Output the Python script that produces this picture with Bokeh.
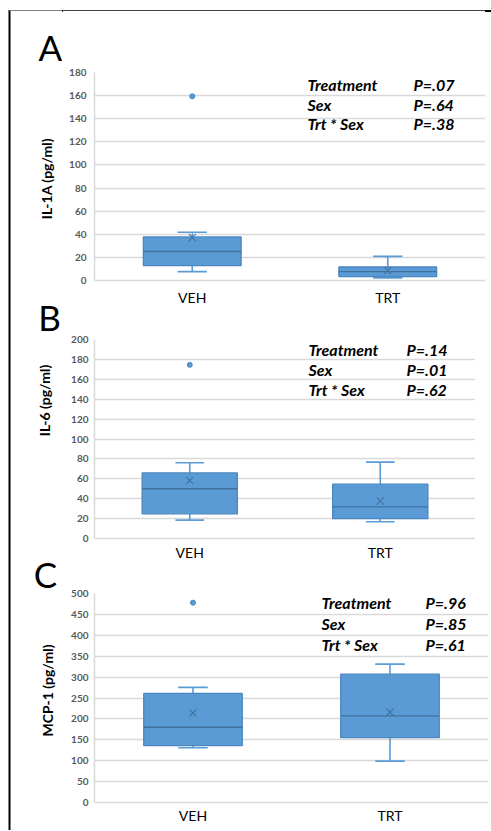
import math
from bokeh.plotting import figure
from bokeh.models import (FixedTicker, Label, ColumnDataSource, Range1d, FactorRange,
                          BoxAnnotation, Div)
from bokeh.transform import dodge
from bokeh.layouts import column, row
from bokeh.embed import file_html
from bokeh.resources import INLINE

# ---------------- data ----------------
groups = ["VEH", "TRT"]
effects = ["Treatment", "Sex", "Trt * Sex"]
letters = ["A", "B", "C"]
ylabels = ["IL-1A (pg/ml)", "IL-6 (pg/ml)", "MCP-1 (pg/ml)"]

# Panel A: IL-1A (pg/ml)
il1a_min = [7.7, 2.3]
il1a_q1 = [12.9, 3.4]
il1a_med = [25.1, 7.7]
il1a_q3 = [37.7, 11.7]
il1a_max = [41.7, 20.9]
il1a_mean = [37.2, 8.6]
il1a_out_group = ["VEH"]
il1a_out_val = [159.4]
il1a_p = ["P=.07", "P=.64", "P=.38"]
il1a_ticks = [0, 20, 40, 60, 80, 100, 120, 140, 160, 180]

# Panel B: IL-6 (pg/ml)
il6_min = [18.5, 16.9]
il6_q1 = [24.8, 19.9]
il6_med = [50.0, 31.8]
il6_q3 = [65.9, 54.6]
il6_max = [76.2, 76.8]
il6_mean = [58.3, 37.7]
il6_out_group = ["VEH"]
il6_out_val = [174.5]
il6_p = ["P=.14", "P=.01", "P=.62"]
il6_ticks = [0, 20, 40, 60, 80, 100, 120, 140, 160, 180, 200]

# Panel C: MCP-1 (pg/ml)
mcp1_min = [131, 99]
mcp1_q1 = [136, 155]
mcp1_med = [180, 207]
mcp1_q3 = [261, 307]
mcp1_max = [275.5, 331]
mcp1_mean = [214, 216]
mcp1_out_group = ["VEH"]
mcp1_out_val = [478]
mcp1_p = ["P=.96", "P=.85", "P=.61"]
mcp1_ticks = [0, 50, 100, 150, 200, 250, 300, 350, 400, 450, 500]

# ---------------- styling ----------------
FONT = "Lato"
BOX_FILL = "#5B9BD5"
BOX_LINE = "#4A86C0"
MED_LINE = "#41719C"
GRID = "#D9D9D9"
TICK_TXT = "#595959"


def panel(ticks, lo, q1, med, q3, hi, mean, og, ov, pvals,
          W, H, bl, bt, bb, x_stand, y_stand, ann_x, ann_px, ann_y, ann_dy):
    p = figure(x_range=FactorRange(factors=groups), y_range=Range1d(ticks[0], ticks[-1]),
               width=W, height=H, output_backend="svg", toolbar_location=None,
               min_border_left=bl, min_border_top=bt, min_border_right=0,
               min_border_bottom=bb)
    p.outline_line_color = None
    p.background_fill_color = "white"
    p.border_fill_color = "white"

    src = ColumnDataSource(dict(g=groups, lo=lo, q1=q1, med=med, q3=q3, hi=hi, mean=mean))
    wl = dict(line_color=BOX_FILL, line_width=1.6)
    # whiskers
    p.segment(x0="g", x1="g", y0="q3", y1="hi", source=src, **wl)
    p.segment(x0="g", x1="g", y0="q1", y1="lo", source=src, **wl)
    p.segment(x0=dodge("g", -0.075, range=p.x_range), x1=dodge("g", 0.075, range=p.x_range),
              y0="hi", y1="hi", source=src, **wl)
    p.segment(x0=dodge("g", -0.075, range=p.x_range), x1=dodge("g", 0.075, range=p.x_range),
              y0="lo", y1="lo", source=src, **wl)
    # boxes
    p.vbar(x="g", top="q3", bottom="q1", width=0.5, source=src,
           fill_color=BOX_FILL, line_color=BOX_LINE, line_width=1.3)
    # median
    p.segment(x0=dodge("g", -0.25, range=p.x_range), x1=dodge("g", 0.25, range=p.x_range),
              y0="med", y1="med", source=src, line_color=MED_LINE, line_width=1.3)
    # mean
    p.scatter(x="g", y="mean", source=src, marker="x", size=10,
              line_color=MED_LINE, line_width=1.1)
    # outliers
    p.scatter(x=og, y=ov, marker="circle", size=5, fill_color=BOX_FILL, line_color=BOX_LINE)

    # axes
    p.xgrid.grid_line_color = None
    p.ygrid.grid_line_color = GRID
    p.ygrid.grid_line_width = 1.5
    p.yaxis.ticker = FixedTicker(ticks=ticks)
    p.yaxis.axis_line_color = GRID
    p.yaxis.axis_line_width = 1.5
    p.yaxis.major_tick_line_color = None
    p.yaxis.minor_tick_line_color = None
    p.yaxis.major_tick_out = 0
    p.yaxis.major_label_standoff = y_stand
    p.yaxis.major_label_text_font = FONT
    p.yaxis.major_label_text_font_style = "bold"
    p.yaxis.major_label_text_font_size = "10px"
    p.yaxis.major_label_text_color = TICK_TXT

    p.xaxis.axis_line_color = GRID
    p.xaxis.axis_line_width = 1.5
    p.xaxis.major_tick_line_color = None
    p.xaxis.minor_tick_line_color = None
    p.xaxis.major_tick_out = 0
    p.xaxis.major_label_standoff = x_stand
    p.xaxis.major_label_text_font = FONT
    p.xaxis.major_label_text_font_size = "14px"
    p.xaxis.major_label_text_color = "black"

    # statistics annotation (inside the plot frame)
    for i, (eff, pv) in enumerate(zip(effects, pvals)):
        for xx, t in ((ann_x, eff), (ann_px, pv)):
            p.add_layout(Label(x=xx, y=ann_y - i * ann_dy, x_units="screen", y_units="screen",
                               text=t, text_font=FONT, text_font_size="16px",
                               text_font_style="bold italic", text_color="black",
                               text_baseline="middle"))
    return p


HA, HB, HC = 298, 255, 267
pA = panel(il1a_ticks, il1a_min, il1a_q1, il1a_med, il1a_q3, il1a_max,
           il1a_mean, il1a_out_group, il1a_out_val, il1a_p,
           W=423, H=HA, bl=32, bt=62, bb=26, x_stand=8, y_stand=8,
           ann_x=213, ann_px=319, ann_y=196, ann_dy=19.5)
pB = panel(il6_ticks, il6_min, il6_q1, il6_med, il6_q3, il6_max,
           il6_mean, il6_out_group, il6_out_val, il6_p,
           W=413, H=HB, bl=26, bt=31, bb=22, x_stand=5, y_stand=6,
           ann_x=214, ann_px=312, ann_y=189.5, ann_dy=20)
pC = panel(mcp1_ticks, mcp1_min, mcp1_q1, mcp1_med, mcp1_q3, mcp1_max,
           mcp1_mean, mcp1_out_group, mcp1_out_val, mcp1_p,
           W=426, H=HC, bl=24, bt=30, bb=28, x_stand=4, y_stand=6,
           ann_x=227, ann_px=331, ann_y=200.5, ann_dy=21)

# left strip: frame's left edge, panel letters and y-axis titles
LW, LH = 62, HA + HB + HC
left = figure(width=LW, height=LH, x_range=Range1d(0, LW), y_range=Range1d(0, LH),
              x_axis_type=None, y_axis_type=None, output_backend="svg",
              toolbar_location=None, min_border=0)
left.outline_line_color = None
left.grid.visible = False
left.add_layout(BoxAnnotation(left=8, right=10, bottom=0, top=LH, fill_color="black",
                              fill_alpha=1, line_color=None))
letter_pos = [(61.8, 783.5, "right"), (49, 514, "center"), (45, 257, "center")]
ylabel_pos = [(46, 652), (44, 430), (47, 140)]
for t, (lx, ly, al) in zip(letters, letter_pos):
    left.add_layout(Label(x=lx, y=ly, x_units="screen", y_units="screen", text=t,
                          text_font=FONT, text_font_size="35px", text_color="black",
                          text_align=al, text_baseline="middle"))
for t, (lx, ly) in zip(ylabels, ylabel_pos):
    left.add_layout(Label(x=lx, y=ly, x_units="screen", y_units="screen", text=t,
                          angle=math.pi / 2, text_font=FONT, text_font_size="14px",
                          text_font_style="bold", text_color="black",
                          text_align="center", text_baseline="middle"))

# top strip with the frame's top edge
top = Div(text='<div style="padding:8px 0 0 8px;margin:0;">'
               '<div style="width:483px;height:2px;background:#000;margin:0;"></div></div>',
          width=491, height=10, margin=0)

layout = column(top, row(left, column(pA, pB, pC)))

open("out.html", "w").write(file_html(layout, INLINE))
